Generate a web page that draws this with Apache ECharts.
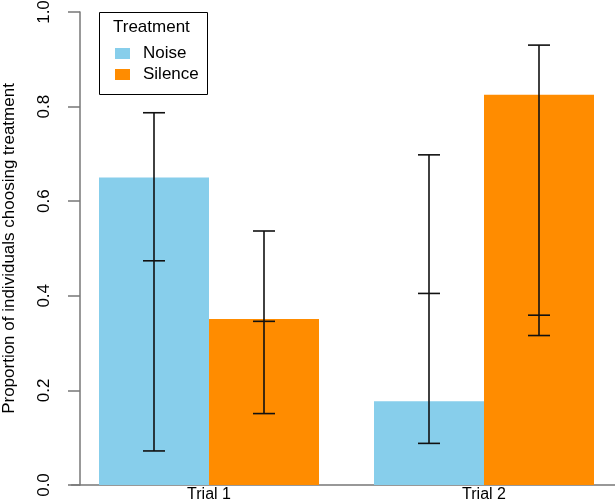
<!DOCTYPE html>
<html>
<head>
<meta charset="utf-8">
<script src="https://cdn.jsdelivr.net/npm/echarts@6/dist/echarts.min.js"></script>
<style>html,body{margin:0;padding:0;background:#fff}#c{width:615px;height:503px}</style>
</head>
<body>
<div id="c"></div>
<script>
const categories = ['Trial 1', 'Trial 2'];
const seriesNames = ['Noise', 'Silence'];
const noiseValues = [0.65, 0.177];
const silenceValues = [0.351, 0.825];
// error bars: [low, mid, high] per category
const noiseErr = [[0.072, 0.474, 0.787], [0.088, 0.405, 0.698]];
const silenceErr = [[0.151, 0.346, 0.537], [0.316, 0.359, 0.930]];
const yTicks = [0, 0.2, 0.4, 0.6, 0.8, 1.0];

const FONT = '"Liberation Sans", Arial, sans-serif';
const AXIS_COLOR = '#777';

function errData(errs, side) {
  return errs.map((e, i) => [i, e[0], e[1], e[2], side]);
}

function renderErr(params, api) {
  const cat = api.value(0);
  const side = api.value(4);
  const band = api.size([1, 0])[0];
  const off = band * 0.8 / 4 * side;
  const lo = api.coord([cat, api.value(1)]);
  const mid = api.coord([cat, api.value(2)]);
  const hi = api.coord([cat, api.value(3)]);
  const x = lo[0] + off;
  const hw = 11;
  const style = { stroke: '#111', lineWidth: 1.6 };
  return {
    type: 'group',
    children: [
      { type: 'line', shape: { x1: x, y1: lo[1], x2: x, y2: hi[1] }, style },
      { type: 'line', shape: { x1: x - hw, y1: lo[1], x2: x + hw, y2: lo[1] }, style },
      { type: 'line', shape: { x1: x - hw, y1: mid[1], x2: x + hw, y2: mid[1] }, style },
      { type: 'line', shape: { x1: x - hw, y1: hi[1], x2: x + hw, y2: hi[1] }, style }
    ]
  };
}

const chart = echarts.init(document.getElementById('c'), null, { renderer: 'canvas' });
chart.setOption({
  animation: false,
  backgroundColor: '#fff',
  textStyle: { fontFamily: FONT },
  grid: { left: 71.5, right: -6.5, top: 12, bottom: 18, containLabel: false, outerBoundsMode: 'none' },
  legend: {
    data: seriesNames,
    orient: 'vertical',
    left: 115,
    top: 45,
    itemWidth: 15,
    itemHeight: 11,
    itemGap: 4,
    icon: 'rect',
    padding: 0,
    textStyle: { fontFamily: FONT, fontSize: 17, color: '#000', padding: [0, 0, 0, 8] },
    selectedMode: false
  },
  graphic: [
    { type: 'rect', shape: { x: 99.5, y: 12.5, width: 108, height: 82 }, style: { fill: 'none', stroke: '#000', lineWidth: 1 }, z: 10 },
    { type: 'text', x: 113, y: 27, style: { text: 'Treatment', font: '17px ' + FONT, fill: '#000', textVerticalAlign: 'middle' }, z: 10 }
  ],
  xAxis: {
    type: 'category',
    data: categories,
    axisLine: { show: true, lineStyle: { color: AXIS_COLOR, width: 1.5 } },
    axisTick: { show: false },
    axisLabel: { fontSize: 16, color: '#000', margin: 2, fontFamily: FONT },
    splitLine: { show: false }
  },
  yAxis: {
    type: 'value',
    min: 0,
    max: 1,
    interval: 0.2,
    offset: -8.5,
    name: 'Proportion of individuals choosing treatment',
    nameLocation: 'middle',
    nameRotate: 90,
    nameGap: 62,
    nameTextStyle: { fontSize: 17, color: '#000', fontFamily: FONT },
    axisLine: { show: true, lineStyle: { color: AXIS_COLOR, width: 1.5 } },
    axisTick: { show: true, length: 12, lineStyle: { color: AXIS_COLOR, width: 1.5 } },
    axisLabel: { rotate: 90, fontSize: 17, color: '#000', margin: 27, fontFamily: FONT,
      formatter: v => yTicks.includes(+v.toFixed(1)) ? v.toFixed(1) : '' },
    splitLine: { show: false }
  },
  series: [
    { name: 'Noise', type: 'bar', data: noiseValues, barGap: '0%', barCategoryGap: '20%', itemStyle: { color: '#87CEEB' } },
    { name: 'Silence', type: 'bar', data: silenceValues, barGap: '0%', barCategoryGap: '20%', itemStyle: { color: '#FF8C00' } },
    { type: 'custom', renderItem: renderErr, data: errData(noiseErr, -1), encode: { x: 0, y: [1, 2, 3] }, z: 5, silent: true },
    { type: 'custom', renderItem: renderErr, data: errData(silenceErr, 1), encode: { x: 0, y: [1, 2, 3] }, z: 5, silent: true }
  ]
});
</script>
</body>
</html>
